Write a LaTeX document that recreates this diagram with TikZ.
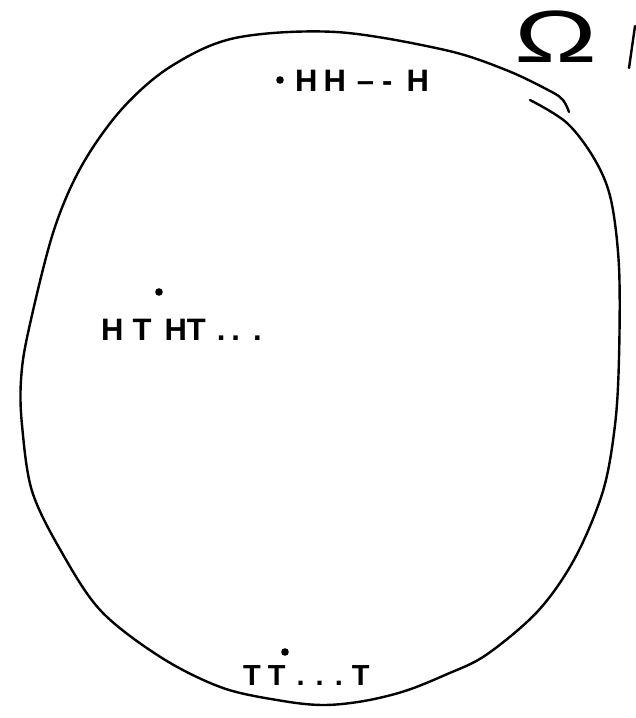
\documentclass[tikz,border=0pt]{standalone}
\usepackage{fontspec}
\newfontfamily\hand{Liberation Sans}
\tikzset{
  ink/.style={line width=2.4pt, line cap=round, line join=round},
  seq/.style={anchor=base west, inner sep=0pt, font=\hand\bfseries\fontsize{31}{31}\selectfont},
  pt/.style={fill=black, draw=none},
}
\begin{document}
\begin{tikzpicture}[x=1pt,y=-1pt]
\useasboundingbox (0,0) rectangle (635,718);
% sample space boundary
\draw[ink] plot[smooth, tension=0.55] coordinates {
 (530,100) (567,123) (595,160) (611,200) (619,267) (619,358) (615,425) (603,491)
 (575,558) (538,611) (486,655) (445,675) (405,691) (364,701) (324,705) (283,701)
 (223,688) (162,658) (101,611) (61,551) (32,491) (22,425) (21,380) (28,333)
 (53,233) (81,167) (121,110) (170,67) (235,38) (336,32) (445,50) (506,70) (550,91)
 (563,100) (569,112)};
% Omega label
\node[inner sep=0pt, xscale=1.5, transform shape, font=\hand\fontsize{74}{74}\selectfont] (om) at (556,37) {Ω};
\coordinate (b1) at (635,26);
\coordinate (b2) at (629,68);
\draw[ink] (b1) -- (b2);
% outcomes
\node[seq] (hh) at (295,91) {H\hspace{6pt}H\hspace{11pt}–\hspace{8pt}-\hspace{14pt}H};
\fill[pt] (280,80) circle (3.8);
\node[seq] (ht) at (101,340) {H\hspace{9pt}T\hspace{13pt}HT\hspace{11pt}.\hspace{6pt}.\hspace{13pt}.};
\fill[pt] (159,292) circle (3.8);
\node[seq, font=\hand\bfseries\fontsize{29}{29}\selectfont] (tt) at (243,685) {T\hspace{7pt}T\hspace{11pt}.\hspace{11pt}.\hspace{11pt}.\hspace{9pt}T};
\fill[pt] (285,652) circle (3.8);
\end{tikzpicture}
\end{document}
